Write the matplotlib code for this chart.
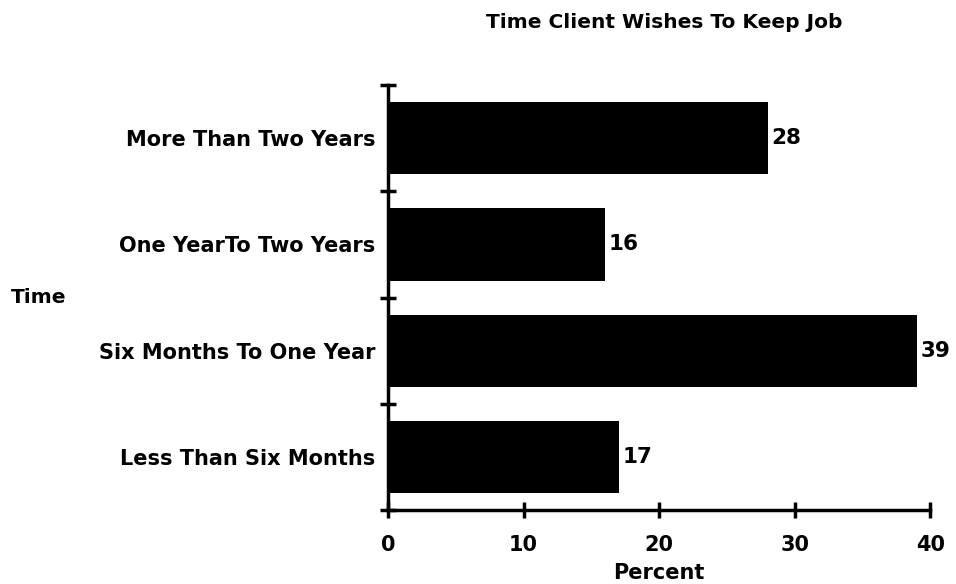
import matplotlib
matplotlib.use("Agg")
import matplotlib.pyplot as plt
import numpy as np

plt.rcParams['font.family'] = ['DejaVu Sans']

categories = ["Less Than Six Months", "Six Months To One Year",
              "One YearTo Two Years", "More Than Two Years"]
percent = [17, 39, 16, 28]
xticks = [0, 10, 20, 30, 40]

fig = plt.figure(figsize=(9.56, 5.84), dpi=100)
ax = fig.add_axes([0.406, 0.127, 0.567, 0.727])

y = np.arange(len(categories))
ax.barh(y, percent, height=0.68, color="black")
for yi, v in zip(y, percent):
    ax.text(v + 0.3, yi, str(v), va="center", ha="left",
            fontsize=15.5, fontweight="bold")

ax.set_xlim(0, 40)
ax.set_ylim(-0.5, 3.5)
ax.set_xticks(xticks)
ax.set_xticklabels([str(t) for t in xticks], fontsize=15, fontweight="bold")
ax.set_yticks(y)
ax.set_yticklabels(categories, fontsize=15, fontweight="bold")
ax.tick_params(axis="y", which="major", length=0, pad=9)
ax.set_yticks(np.arange(-0.5, 4.0, 1.0), minor=True)
ax.tick_params(axis="y", which="minor", direction="inout", length=12, width=2.5)
ax.tick_params(axis="x", which="major", direction="inout", length=12, width=2.5, pad=12)

for s in ["top", "right"]:
    ax.spines[s].set_visible(False)
for s in ["left", "bottom"]:
    ax.spines[s].set_linewidth(2.5)

ax.set_xlabel("Percent", fontsize=15, fontweight="bold", labelpad=6)
fig.text(0.011, 0.49, "Time", fontsize=14.5, fontweight="bold", ha="left", va="center")
fig.text(0.695, 0.962, "Time Client Wishes To Keep Job", fontsize=14.5,
         fontweight="bold", ha="center", va="center")

fig.savefig("out.png", dpi=100)
